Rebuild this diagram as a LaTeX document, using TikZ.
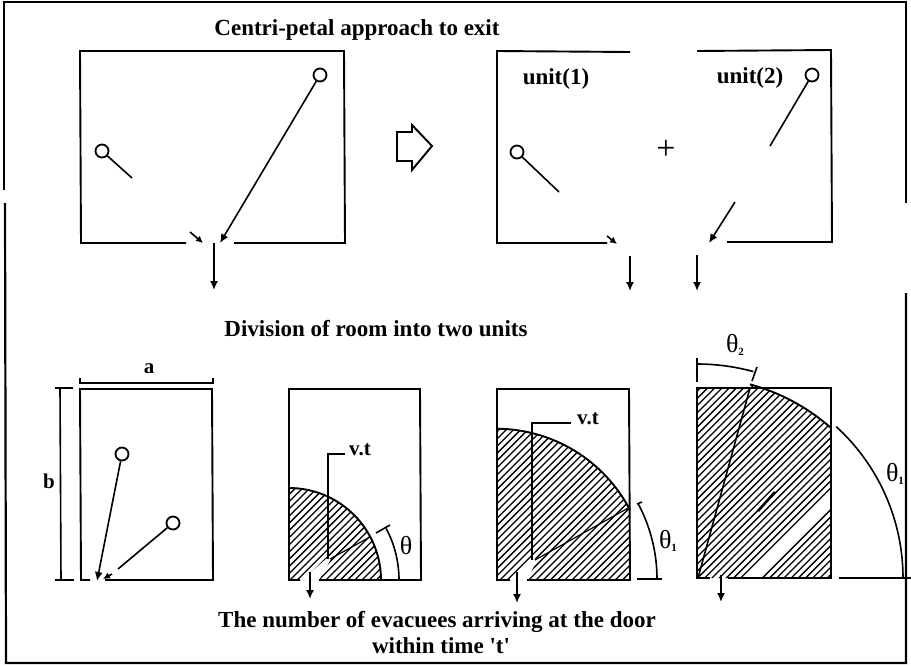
\documentclass[tikz,border=0pt]{standalone}
\usepackage{fontspec}
\setmainfont{Liberation Serif}
\usetikzlibrary{arrows.meta, calc}

\begin{document}
\begin{tikzpicture}[
    x=1pt, y=-1pt,
    line width=1.6pt,
    room/.style={line width=1.9pt},
    arrow/.style={-{Latex[length=9pt,width=8pt]}, line width=1.6pt},
    smallarrow/.style={-{Latex[length=7pt,width=7pt]}, line width=1.6pt},
    person/.style={draw, circle, fill=white, inner sep=0pt, minimum size=13pt, line width=1.8pt},
    title/.style={font=\fontsize{23}{26}\selectfont\bfseries, inner sep=0pt},
    unitlabel/.style={font=\fontsize{23}{26}\selectfont\bfseries, inner sep=0pt},
    dimlabel/.style={font=\fontsize{21}{24}\selectfont\bfseries, inner sep=0pt},
    anglelabel/.style={font=\fontsize{26}{28}\selectfont, inner sep=0pt},
    hatchline/.style={line width=1.3pt}
]
    \useasboundingbox (0,0) rectangle (911,665);
    \newcommand{\subidx}[1]{{\fontsize{11}{11}\selectfont\raisebox{-3pt}{\bfseries #1}}}

    % --- Outer frame ---
    \draw[line width=2.2pt] (4,190) -- (4,2) -- (906,2) -- (906,203);
    \draw[line width=2.2pt] (906,293) -- (906,663) -- (6,663) -- (5,203);

    % --- Titles ---
    \node[title] (title_top) at (357,30) {Centri-petal approach to exit};
    \node[title] (title_mid) at (376,329) {Division of room into two units};
    \node[title] (title_low) at (437,622) {The number of evacuees arriving at the door};
    \node[title] (title_low2) at (441,646) {within time \textquotesingle t\textquotesingle};

    % --- Whole room ---
    \draw[room] (186,243) -- (81,243) -- (80,51) -- (344,51) -- (345,243) -- (234,243);
    \coordinate (door) at (214,243);
    \node[person] (p_near) at (102,151) {};
    \node[person] (p_far) at (320,75) {};
    \coordinate (p_near_end) at (132,178);
    \coordinate (near_tip) at (203,243);
    \coordinate (near_from) at (190,232);
    \coordinate (far_tip) at (220,243);
    \coordinate (out) at (214,290);
    \draw (p_near) -- (p_near_end);
    \draw[smallarrow] (near_from) -- (near_tip);
    \draw[arrow] (p_far) -- (far_tip);
    \draw[arrow] (door) -- (out);

    % block arrow
    \draw[line width=1.9pt] (397,132) -- (412,132) -- (412,125) -- (432,146) -- (412,170) -- (412,161) -- (397,161) -- cycle;

    % --- Two units ---
    \draw[room] (630,52) -- (497,51) -- (497,243) -- (607,243);
    \draw[room] (697,51) -- (831,50) -- (832,242) -- (727,242);
    \node[unitlabel] (unit_one) at (556,79) {unit(1)};
    \node[unitlabel] (unit_two) at (750,78) {unit(2)};
    \node[font=\fontsize{34}{36}\selectfont, inner sep=0pt] (plus) at (666,150) {+};

    \node[person] (u_near) at (517,152) {};
    \node[person] (u_far) at (812,75) {};
    \coordinate (u_near_end) at (559,192);
    \coordinate (u_far_end) at (770,146);
    \coordinate (u_from) at (607,236);
    \coordinate (u_tip) at (617,244);
    \coordinate (v_from) at (735,202);
    \coordinate (v_tip) at (709,243);
    \coordinate (exit_a) at (630,256);
    \coordinate (exit_a_end) at (630,291);
    \coordinate (exit_b) at (697,255);
    \coordinate (exit_b_end) at (697,291);
    \draw (u_near) -- (u_near_end);
    \draw (u_far) -- (u_far_end);
    \draw[smallarrow] (u_from) -- (u_tip);
    \draw[arrow] (v_from) -- (v_tip);
    \draw[arrow] (exit_a) -- (exit_a_end);
    \draw[arrow] (exit_b) -- (exit_b_end);

    % --- Room a x b ---
    \draw[room] (90,580) -- (81,580) -- (80,389) -- (212,389) -- (213,580) -- (105,580);
    \draw (80,378) -- (80,383) -- (213,383) -- (213,378);
    \node[dimlabel] (a_label) at (149,369) {a};
    \draw (55,388) -- (73,388);
    \draw (55,580) -- (74,580);
    \draw (60,388) -- (61,580);
    \node[dimlabel] (b_label) at (49,481) {b};
    \node[person] (r_far) at (122,454) {};
    \node[person] (r_near) at (173,523) {};
    \coordinate (r_far_tip) at (97,581);
    \coordinate (r_near_end) at (118,569);
    \coordinate (r_near_from) at (112,574);
    \coordinate (r_near_tip) at (103,579);
    \draw[arrow] (r_far) -- (r_far_tip);
    \draw (r_near) -- (r_near_end);
    \draw[smallarrow] (r_near_from) -- (r_near_tip);

    % --- Hatched rooms ---
    \begin{scope}
        \clip (289,580) -- (381,580) arc[start angle=0, end angle=-90, radius=92] -- cycle;
        \foreach \k in {-20,...,30} {
            \draw[hatchline] ({280+\k*7.2},590) -- ++(120,-120);
        }
        \fill[white] (302,580) -- (319,580) -- (332,557) -- (326,559) -- cycle;
    \end{scope}
    \draw[room] (300,580) -- (289,580) -- (289,389) -- (420,389) -- (421,580) -- (319,580);
    \draw[room] (381,580) arc[start angle=0, end angle=-90, radius=92];

    \begin{scope}
        \clip (497,580) -- (630,580) -- (630,510) arc[start angle=-27.5, end angle=-90, radius=151] -- cycle;
        \foreach \k in {-30,...,30} {
            \draw[hatchline] ({490+\k*7.2},590) -- ++(180,-180);
        }
        \fill[white] (512,580) -- (527,580) -- (538,558) -- (532,560) -- cycle;
    \end{scope}
    \draw[room] (510,580) -- (497,580) -- (497,389) -- (629,389) -- (630,580) -- (527,580);
    \draw[room] (630,510) arc[start angle=-27.5, end angle=-90, radius=151];

    \begin{scope}
        \clip (698,578) -- (831,578) -- (831,428) arc[start angle=-48.4, end angle=-75, radius=200] -- (750,388) -- (698,388) -- cycle;
        \foreach \k in {-40,...,25} {
            \draw[hatchline] ({700+\k*7.2},590) -- ++(240,-240);
        }
        \fill[white] (745,578) -- (759,578) -- (831,506) -- (831,492) -- cycle;
    \end{scope}
    \draw[room] (710,578) -- (697,578) -- (697,388) -- (831,388) -- (831,578) -- (728,578);
    \draw[room] (831,428) arc[start angle=-48.4, end angle=-75, radius=200];

    % --- Leaders and sight lines ---
    \coordinate (o_two) at (330,559);
    \coordinate (s_two) at (370,537);
    \coordinate (vt_two_a) at (328,559);
    \coordinate (vt_two_b) at (328,454);
    \coordinate (vt_two_c) at (345,454);
    \node[dimlabel] (vt_two) at (360,450) {v.t};
    \draw[line width=1.2pt] (o_two) -- (s_two);
    \draw (vt_two_a) -- (vt_two_b) -- (vt_two_c);

    \coordinate (o_three) at (535,560);
    \coordinate (s_three) at (630,507);
    \coordinate (vt_three_a) at (532,560);
    \coordinate (vt_three_b) at (532,423);
    \coordinate (vt_three_c) at (571,423);
    \node[dimlabel] (vt_three) at (588,419) {v.t};
    \draw[line width=1.2pt] (o_three) -- (s_three);
    \draw (vt_three_a) -- (vt_three_b) -- (vt_three_c);

    \coordinate (o_four) at (698,578);
    \coordinate (s_four) at (750,388);
    \coordinate (blob_a) at (758,511);
    \coordinate (blob_b) at (775,492);
    \draw (o_four) -- (s_four);
    \draw[line width=2.6pt] (blob_a) -- (blob_b);

    % --- Exit arrows ---
    \coordinate (e_two) at (310,572);
    \coordinate (e_two_end) at (310,599);
    \coordinate (e_three) at (517,572);
    \coordinate (e_three_end) at (517,603);
    \coordinate (e_four) at (721,575);
    \coordinate (e_four_end) at (721,602);
    \draw[arrow] (e_two) -- (e_two_end);
    \draw[arrow] (e_three) -- (e_three_end);
    \draw[arrow] (e_four) -- (e_four_end);

    % --- Angles ---
    \draw (399,580) arc[start angle=0, end angle=-28, radius=110];
    \draw (376,533) -- (390,525);
    \node[anglelabel] (th_two) at (406,546) {θ};

    \draw (637,579) -- (662,579);
    \draw (657,579) arc[start angle=0, end angle=-28, radius=160];
    \draw (637,504) -- (642,502);
    \node[anglelabel] (th_three) at (668,541) {θ\subidx{1}};

    \draw (839,578) -- (911,578);
    \draw (903,578) arc[start angle=0, end angle=-47.6, radius=205];
    \node[anglelabel] (th_four) at (895,474) {θ\subidx{1}};

    \draw (697,358) -- (697,382);
    \draw (757,367) -- (752,381);
    \draw (697,364) arc[start angle=-90, end angle=-74.7, radius=214];
    \node[anglelabel] (th_top) at (735,345) {θ\subidx{2}};
\end{tikzpicture}
\end{document}
